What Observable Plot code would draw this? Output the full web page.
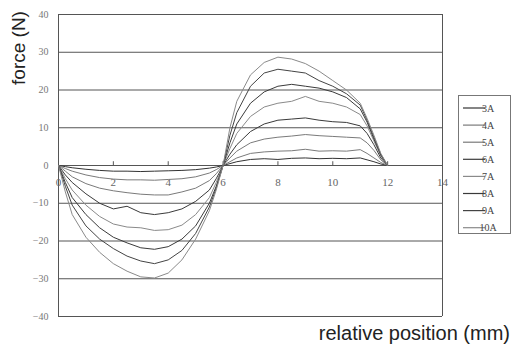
<!DOCTYPE html>
<html>
<head>
<meta charset="utf-8">
<script src="https://cdn.jsdelivr.net/npm/d3@7"></script>
<script src="https://cdn.jsdelivr.net/npm/@observablehq/plot@0.6"></script>
<style>
  html, body { margin: 0; padding: 0; background: #fff; }
</style>
</head>
<body>
<div id="chart"></div>
<script>
const xs = [0,0.25,0.5,1,1.5,2,2.5,3,3.5,4,4.5,5,5.5,5.75,6,6.25,6.5,7,7.5,8,8.5,9,9.5,10,10.5,11,11.25,11.5,11.75,12];
const seriesNames = ["3A","4A","5A","6A","7A","8A","9A","10A"];
const s3A = [0,-0.3,-0.6,-1,-1.3,-1.5,-1.5,-1.6,-1.5,-1.4,-1.3,-1.1,-0.7,-0.4,0, 0.5,1,1.6,1.8,1.6,1.9,2,1.8,1.9,1.8,2,1.5,1,0.4,0];
const s4A = [0,-0.8,-1.5,-2.5,-3.2,-3.6,-3.8,-3.8,-3.9,-3.7,-3.5,-3,-2,-1.1,0, 1,2,3.2,3.6,3.8,3.9,4.3,3.8,3.9,3.8,4.2,3.2,2,0.8,0];
const s5A = [0,-1.5,-3,-4.8,-6,-6.7,-7.2,-7.6,-7.8,-7.8,-7,-6,-4,-2.2,0, 2,3.8,6,7,7.5,7.8,8.2,7.9,7.7,7.5,7.3,6,4,1.5,0];
const s6A = [0,-2.5,-4.5,-7.5,-10,-11.5,-10.8,-12.5,-13,-12.5,-11.5,-9.5,-6.5,-3.5,0, 3,5.5,9,11,12,12.3,12.6,12,11.6,11.4,10.5,8.5,5.5,2,0];
const s7A = [0,-3.5,-6.5,-10.5,-13.5,-15.5,-16.3,-16.5,-17.2,-17,-15.8,-13,-8.5,-4.5,0, 4.5,8.5,13,15.5,16.5,17,18.3,17,16.5,15.5,13.5,10.5,6.5,2.5,0];
const s8A = [0,-4.5,-8.5,-13,-16.5,-19,-20.5,-21.8,-22.2,-21.5,-19.5,-16,-10,-5.5,0, 6,11,16.5,19.5,21,21.5,21,20.5,19.5,18,15,11.5,7,2.8,0];
const s9A = [0,-5.5,-10.5,-16,-19.5,-22,-24,-25.3,-26,-25,-22.5,-18,-11,-6,0, 8,14,21,24.5,25.5,25,24.5,22.5,21,19,16,12,7.5,3,0];
const s10A = [0,-7,-13,-19,-23,-26,-28,-29.5,-29.8,-28.5,-25,-19.5,-12,-6.5,0, 10,17,24,27.3,28.7,28.2,27,25,22.5,20,16.5,12.5,8,3.2,0];
const seriesValues = [s3A,s4A,s5A,s6A,s7A,s8A,s9A,s10A];
const seriesColors = ["#333","#7a7a7a","#7a7a7a","#3a3a3a","#8a8a8a","#3a3a3a","#444","#8a8a8a"];
const xTicks = [0,2,4,6,8,10,12,14];
const yTicks = [-40,-30,-20,-10,0,10,20,30,40];

const rows = [];
seriesNames.forEach((name, i) => {
  seriesValues[i].forEach((v, j) => rows.push({series: name, x: xs[j], y: v}));
});

const W = 512, H = 345;
const svg = Plot.plot({
  width: W,
  height: H,
  marginLeft: 58,
  marginRight: 70,
  marginTop: 14,
  marginBottom: 29,
  style: {background: "#fff", fontFamily: "'Liberation Serif', serif"},
  x: {domain: [0, 14], axis: null},
  y: {domain: [-40, 40], label: null},
  color: {domain: seriesNames, range: seriesColors},
  marks: [
    Plot.ruleY(yTicks, {stroke: "#555", strokeWidth: 1}),
    Plot.ruleX([0, 14], {stroke: "#555", strokeWidth: 1}),
    Plot.ruleX(xTicks, {x: d => d, y1: 0, y2: 1, stroke: "#555"}),
    Plot.axisY({ticks: yTicks, tickSize: 0, tickPadding: 10, fontSize: 10, fill: "#777", label: null}),
    Plot.text(xTicks, {x: d => d, y: 0, dy: 17, text: d => String(d), fontSize: 11, fill: "#666"}),
    Plot.line(rows, {x: "x", y: "y", z: "series", stroke: "series", strokeWidth: 1, curve: "linear"})
  ]
});

const s = d3.select(svg);
s.append("text")
  .attr("transform", "translate(25,48) rotate(-90)")
  .attr("text-anchor", "middle")
  .attr("font-family", "'Liberation Sans', Arial, sans-serif")
  .attr("font-size", 19)
  .attr("fill", "#222")
  .text("force (N)");
s.append("text")
  .attr("x", 510).attr("y", 340)
  .attr("text-anchor", "end")
  .attr("font-family", "'Liberation Sans', Arial, sans-serif")
  .attr("font-size", 20)
  .attr("fill", "#222")
  .text("relative position (mm)");

const lg = s.append("g");
lg.append("rect").attr("x", 458.5).attr("y", 95.5).attr("width", 52).attr("height", 138)
  .attr("fill", "none").attr("stroke", "#777");
seriesNames.forEach((name, i) => {
  const yy = 108 + i * 17.1;
  lg.append("line").attr("x1", 463).attr("x2", 485).attr("y1", yy).attr("y2", yy)
    .attr("stroke", seriesColors[i]).attr("stroke-width", 1.2);
  lg.append("text").attr("x", 488).attr("y", yy + 3.5)
    .attr("font-family", "'Liberation Serif', serif").attr("font-size", 10)
    .attr("fill", "#444").text(name);
});

document.getElementById("chart").appendChild(svg);
</script>
</body>
</html>
